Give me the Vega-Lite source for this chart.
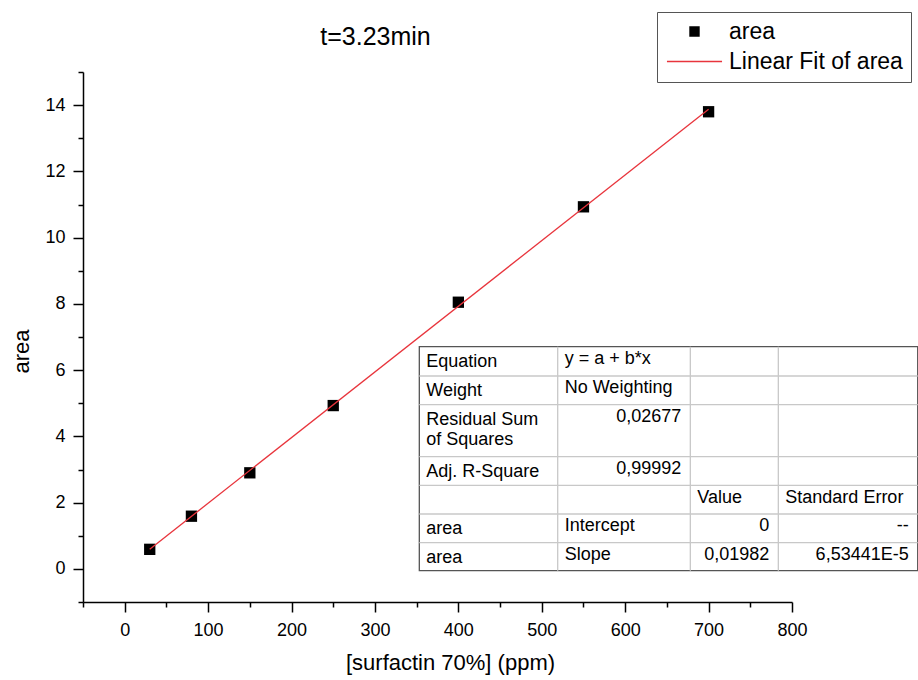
{
  "$schema": "https://vega.github.io/schema/vega-lite/v6.json",
  "width": 709,
  "height": 530,
  "autosize": {"type": "none"},
  "padding": {"left": 83, "top": 72, "right": 126, "bottom": 78},
  "background": "white",
  "title": {"text": "t=3.23min", "fontSize": 25, "font": "Liberation Sans", "fontWeight": "normal", "color": "black", "anchor": "middle", "dx": -62, "offset": -58, "frame": "group", "baseline": "alphabetic"},
  "resolve": {"axis": {"y": "independent"}},
  "datasets": {
    "pts": [
      {"c": 30, "area": 0.59, "series": "area"},
      {"c": 80, "area": 1.59, "series": "area"},
      {"c": 150, "area": 2.90, "series": "area"},
      {"c": 250, "area": 4.93, "series": "area"},
      {"c": 400, "area": 8.05, "series": "area"},
      {"c": 550, "area": 10.93, "series": "area"},
      {"c": 700, "area": 13.80, "series": "area"}
    ],
    "fit": [
      {"c": 30, "area": 0.5946, "series": "Linear Fit of area"},
      {"c": 700, "area": 13.874, "series": "Linear Fit of area"}
    ],
    "tbl": [
      {"x0": 353.2, "x1": 950.7, "y0": 6.707, "y1": -0.055}
    ],
    "grid": [
      {"x0": 519.1, "x1": 519.1, "y0": 6.707, "y1": -0.055},
      {"x0": 678.1, "x1": 678.1, "y0": 6.707, "y1": -0.055},
      {"x0": 783.6, "x1": 783.6, "y0": 6.707, "y1": -0.055},
      {"x0": 353.2, "x1": 950.7, "y0": 5.823, "y1": 5.823},
      {"x0": 353.2, "x1": 950.7, "y0": 4.956, "y1": 4.956},
      {"x0": 353.2, "x1": 950.7, "y0": 3.386, "y1": 3.386},
      {"x0": 353.2, "x1": 950.7, "y0": 2.523, "y1": 2.523},
      {"x0": 353.2, "x1": 950.7, "y0": 1.657, "y1": 1.657},
      {"x0": 353.2, "x1": 950.7, "y0": 0.790, "y1": 0.790}
    ],
    "cells": [
      {"t": "Equation", "x": 353.2, "y": 6.707, "kind": "first"},
      {"t": "Weight", "x": 353.2, "y": 5.823, "kind": "first"},
      {"t": ["Residual Sum", "of Squares"], "x": 353.2, "y": 4.956, "kind": "first"},
      {"t": "Adj. R-Square", "x": 353.2, "y": 3.386, "kind": "first"},
      {"t": "area", "x": 353.2, "y": 1.657, "kind": "first"},
      {"t": "area", "x": 353.2, "y": 0.790, "kind": "first"},
      {"t": "y = a + b*x", "x": 519.1, "y": 6.707, "kind": "left"},
      {"t": "No Weighting", "x": 519.1, "y": 5.823, "kind": "left"},
      {"t": "Intercept", "x": 519.1, "y": 1.657, "kind": "left"},
      {"t": "Slope", "x": 519.1, "y": 0.790, "kind": "left"},
      {"t": "Value", "x": 678.1, "y": 2.523, "kind": "left"},
      {"t": "Standard Error", "x": 783.6, "y": 2.523, "kind": "left"},
      {"t": "0,02677", "x": 678.1, "y": 4.956, "kind": "right"},
      {"t": "0,99992", "x": 678.1, "y": 3.386, "kind": "right"},
      {"t": "0", "x": 783.6, "y": 1.657, "kind": "right"},
      {"t": "0,01982", "x": 783.6, "y": 0.790, "kind": "right"},
      {"t": "--", "x": 950.7, "y": 1.657, "kind": "right"},
      {"t": "6,53441E-5", "x": 950.7, "y": 0.790, "kind": "right"}
    ]
  },
  "layer": [
    {
      "data": {"name": "pts"},
      "mark": {"type": "point", "shape": "square", "filled": true, "size": 128, "opacity": 1},
      "encoding": {
        "x": {
          "field": "c", "type": "quantitative", "title": "[surfactin 70%] (ppm)",
          "scale": {"domain": [-50, 800], "nice": false, "zero": false},
          "axis": {
            "values": [-50, 0, 50, 100, 150, 200, 250, 300, 350, 400, 450, 500, 550, 600, 650, 700, 750, 800],
            "labelExpr": "datum.value % 100 === 0 && datum.value >= 0 ? datum.label : ''",
            "tickSize": {"condition": {"test": "datum.value % 100 === 0", "value": 10}, "value": 5},
            "labelPadding": 9,
            "titleX": 367, "titleY": 67, "titleBaseline": "alphabetic", "titleAlign": "center"
          }
        },
        "y": {
          "field": "area", "type": "quantitative", "title": "area",
          "scale": {"domain": [-1, 15], "nice": false, "zero": false},
          "axis": {
            "orient": "left",
            "values": [0, 2, 4, 6, 8, 10, 12, 14],
            "tickSize": 10,
            "labelPadding": 8,
            "titleX": -55, "titleY": 279, "titleBaseline": "alphabetic", "titleAlign": "center", "titleAngle": 270
          }
        },
        "color": {
          "field": "series", "type": "nominal",
          "scale": {"domain": ["area", "Linear Fit of area"], "range": ["black", "#e8343c"]},
          "legend": {
            "orient": "none", "legendX": 574, "legendY": -60, "title": null,
            "strokeColor": "#555555", "fillColor": "white", "padding": 8,
            "symbolSize": 324, "symbolOffset": 18, "labelOffset": 23,
            "symbolType": {"expr": "datum.value === 'area' ? 'M-0.5,-0.5H0.5V0.5H-0.5Z' : 'M-3.06,0H3.06'"},
            "symbolStrokeColor": {"expr": "datum.value === 'area' ? 'black' : '#e8343c'"},
            "symbolStrokeWidth": 1.4,
            "symbolOpacity": 1,
            "labelFontSize": 23, "labelColor": "black", "labelLimit": 400, "rowPadding": 6
          }
        }
      }
    },
    {
      "data": {"name": "fit"},
      "mark": {"type": "line", "strokeWidth": 1.3},
      "encoding": {
        "x": {"field": "c", "type": "quantitative", "title": "[surfactin 70%] (ppm)"},
        "y": {
          "field": "area", "type": "quantitative", "title": null,
          "axis": {
            "orient": "left",
            "values": [-1, 1, 3, 5, 7, 9, 11, 13, 15],
            "labels": false, "domain": false, "tickSize": 5, "title": null
          }
        },
        "color": {"field": "series", "type": "nominal", "legend": null}
      }
    },
    {
      "data": {"name": "tbl"},
      "mark": {"type": "rect", "fill": "white", "stroke": "#555555", "strokeWidth": 1.3},
      "encoding": {
        "x": {"field": "x0", "type": "quantitative", "title": "[surfactin 70%] (ppm)"},
        "x2": {"field": "x1"},
        "y": {"field": "y0", "type": "quantitative", "axis": null},
        "y2": {"field": "y1"}
      }
    },
    {
      "data": {"name": "grid"},
      "mark": {"type": "rule", "color": "#c8c8c8", "strokeWidth": 1.3},
      "encoding": {
        "x": {"field": "x0", "type": "quantitative", "title": "[surfactin 70%] (ppm)"},
        "x2": {"field": "x1"},
        "y": {"field": "y0", "type": "quantitative", "axis": null},
        "y2": {"field": "y1"}
      }
    },
    {
      "data": {"name": "cells"},
      "transform": [{"filter": "datum.kind === 'first'"}],
      "mark": {"type": "text", "align": "left", "baseline": "alphabetic", "dx": 7, "dy": 20, "fontSize": 18, "lineHeight": 20.7, "color": "black"},
      "encoding": {
        "x": {"field": "x", "type": "quantitative", "title": "[surfactin 70%] (ppm)"},
        "y": {"field": "y", "type": "quantitative", "axis": null},
        "text": {"field": "t", "type": "nominal"}
      }
    },
    {
      "data": {"name": "cells"},
      "transform": [{"filter": "datum.kind === 'left'"}],
      "mark": {"type": "text", "align": "left", "baseline": "alphabetic", "dx": 7, "dy": 17.5, "fontSize": 18, "color": "black"},
      "encoding": {
        "x": {"field": "x", "type": "quantitative", "title": "[surfactin 70%] (ppm)"},
        "y": {"field": "y", "type": "quantitative", "axis": null},
        "text": {"field": "t", "type": "nominal"}
      }
    },
    {
      "data": {"name": "cells"},
      "transform": [{"filter": "datum.kind === 'right'"}],
      "mark": {"type": "text", "align": "right", "baseline": "alphabetic", "dx": -9, "dy": 17.5, "fontSize": 18, "color": "black"},
      "encoding": {
        "x": {"field": "x", "type": "quantitative", "title": "[surfactin 70%] (ppm)"},
        "y": {"field": "y", "type": "quantitative", "axis": null},
        "text": {"field": "t", "type": "nominal"}
      }
    }
  ],
  "config": {
    "font": "Liberation Sans",
    "view": {"stroke": null},
    "axis": {
      "grid": false, "domainColor": "black", "domainWidth": 1.5, "tickColor": "black", "tickWidth": 1.5,
      "labelColor": "black", "labelFontSize": 18, "labelFlush": false, "labelOverlap": false, "labelBound": false,
      "titleFontSize": 22, "titleFontWeight": "normal", "titleColor": "black"
    }
  }
}
